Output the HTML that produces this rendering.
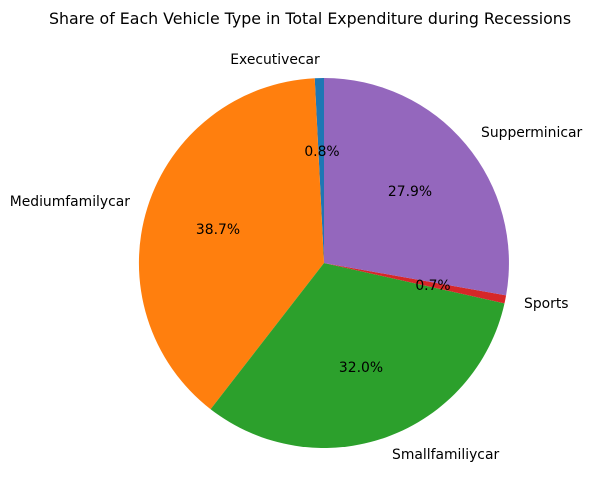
<!DOCTYPE html>
<html><head><meta charset="utf-8"><style>
html,body{margin:0;padding:0;background:#fff;}
svg{display:block;font-family:"DejaVu Sans",sans-serif;}
</style></head><body>
<svg width="608" height="504" viewBox="0 0 608 504" xmlns="http://www.w3.org/2000/svg">
<rect width="608" height="504" fill="#fff"/>
<text x="310" y="24" font-size="15.8" text-anchor="middle" fill="#000">Share of Each Vehicle Type in Total Expenditure during Recessions</text>
<g>
<path d="M324,263 L324,78 A185,185 0 0 0 314.7,78.2 Z" fill="#1f77b4"/>
<path d="M324,263 L314.7,78.2 A185,185 0 0 0 210.6,409.2 Z" fill="#ff7f0e"/>
<path d="M324,263 L210.6,409.2 A185,185 0 0 0 504.5,303.4 Z" fill="#2ca02c"/>
<path d="M324,263 L504.5,303.4 A185,185 0 0 0 506.1,295.4 Z" fill="#d62728"/>
<path d="M324,263 L506.1,295.4 A185,185 0 0 0 324,78 Z" fill="#9467bd"/>
</g>
<g font-size="13.9" fill="#000">
<text x="275" y="64" text-anchor="middle">Executivecar</text>
<text x="130" y="206" text-anchor="end">Mediumfamilycar</text>
<text x="392" y="459" text-anchor="start">Smallfamiliycar</text>
<text x="524" y="308" text-anchor="start">Sports</text>
<text x="481" y="137" text-anchor="start">Supperminicar</text>
<text x="322" y="156" text-anchor="middle">0.8%</text>
<text x="218" y="234" text-anchor="middle">38.7%</text>
<text x="361" y="372" text-anchor="middle">32.0%</text>
<text x="433" y="290" text-anchor="middle">0.7%</text>
<text x="410" y="196" text-anchor="middle">27.9%</text>
</g>
</svg>
</body></html>
